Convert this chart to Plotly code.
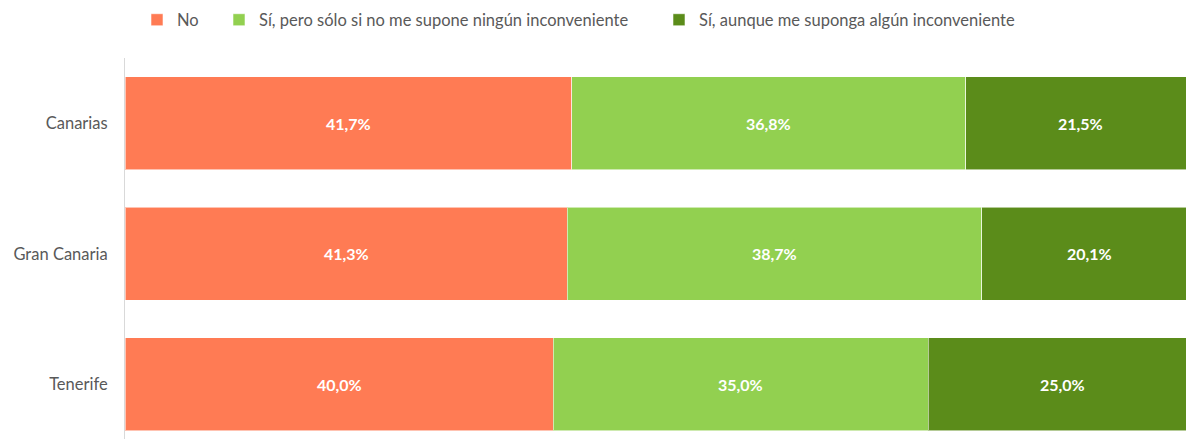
import plotly.graph_objects as go

categories = ["Canarias", "Gran Canaria", "Tenerife"]
series_names = ["No", "Sí, pero sólo si no me supone ningún inconveniente",
                "Sí, aunque me suponga algún inconveniente"]
no_vals = [41.7, 41.3, 40.0]
si_pero_vals = [36.8, 38.7, 35.0]
si_aunque_vals = [21.5, 20.1, 25.0]
colors = ["#FF7B54", "#92D050", "#5B8C1A"]

FONT = "Lato"
W, H = 1186, 439
fig = go.Figure()
all_vals = [no_vals, si_pero_vals, si_aunque_vals]
legend_ids = ["legend", "legend2", "legend3"]
for name, vals, col, lg in zip(series_names, all_vals, colors, legend_ids):
    fig.add_trace(go.Bar(
        y=categories, x=vals, name=name, orientation="h",
        marker=dict(color=col, line=dict(color="rgba(255,255,255,0.55)", width=1)),
        width=0.713, legend=lg, hoverinfo="x+y",
    ))

# data labels centred on each full segment
annotations = []
base = [0.0] * len(categories)
for vals in all_vals:
    for i, (cat, v) in enumerate(zip(categories, vals)):
        annotations.append(dict(
            x=base[i] + v / 2, y=cat, xref="x", yref="y",
            text=f"<b>{v:.1f}%</b>".replace(".", ","), showarrow=False,
            font=dict(family=FONT, size=16, color="white")))
        base[i] += v

leg_common = dict(orientation="h", yanchor="middle", y=1 - 20 / H,
                  xref="container", yref="container", xanchor="left",
                  font=dict(family=FONT, size=16.5, color="#595959"),
                  bgcolor="rgba(0,0,0,0)", itemwidth=30, traceorder="normal")
fig.update_layout(
    width=W, height=H,
    margin=dict(l=125, r=0, t=58, b=0, autoexpand=False),
    barmode="stack",
    plot_bgcolor="white", paper_bgcolor="white",
    legend=dict(leg_common, x=137 / W),
    legend2=dict(leg_common, x=219 / W),
    legend3=dict(leg_common, x=659 / W),
    annotations=annotations,
    xaxis=dict(range=[0, 99.07], showgrid=False, showticklabels=False,
               zeroline=False, showline=False, fixedrange=True, automargin=False),
    yaxis=dict(range=[2.419, -0.5], showgrid=False, showline=True,
               linecolor="#D9D9D9", linewidth=1, ticks="", automargin=False,
               ticklabelstandoff=13,
               tickfont=dict(family=FONT, size=16.5, color="#595959")),
    showlegend=True,
)
fig.write_html("out.html", config={"displayModeBar": False},
               post_script="document.body.style.margin='0';document.body.style.overflow='hidden';")
